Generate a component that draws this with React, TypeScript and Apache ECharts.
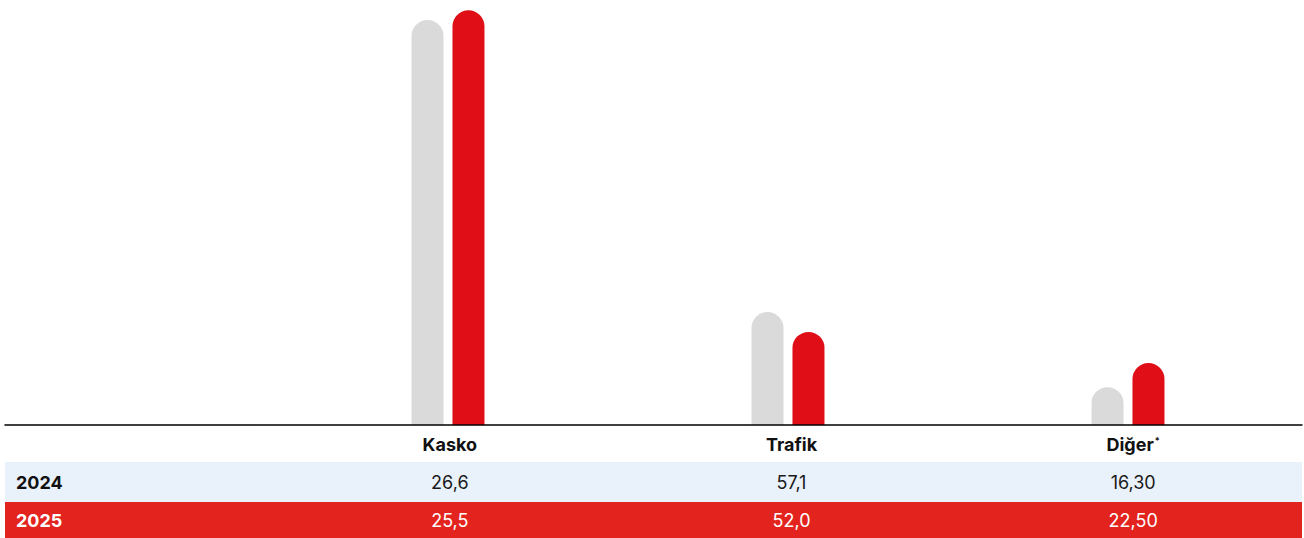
import React, { useEffect, useRef } from "react";
import * as echarts from "echarts";

const categories = ["Kasko", "Trafik", "Diğer"];
const headerSup = ["", "", "*"];
const rowLabels = ["2024", "2025"];
const table2024 = ["26,6", "57,1", "16,30"];
const table2025 = ["25,5", "52,0", "22,50"];
// bar heights (share of the plot height, %)
const bars2024 = [95.3, 26.6, 8.9];
const bars2025 = [97.6, 21.9, 14.6];

const FONT = "Inter, 'Noto Sans', sans-serif";

export default function App() {
  const ref = useRef<HTMLDivElement>(null);
  useEffect(() => {
    if (!ref.current) return;
    const chart = echarts.init(ref.current, undefined, { renderer: "svg" });
    chart.setOption({
      animation: false,
      backgroundColor: "#ffffff",
      textStyle: { fontFamily: FONT },
      grid: [
        { left: 278, right: 6, top: 0, bottom: 113 },
        { left: 5, right: 2, top: 0, bottom: 113 },
        { left: 279, right: 0, top: 0, bottom: 113 },
      ],
      xAxis: [
        {
          type: "category",
          gridIndex: 0,
          data: categories,
          axisLine: { show: false },
          axisTick: { show: false },
          axisLabel: { show: false },
        },
        {
          type: "value",
          gridIndex: 1,
          min: 0,
          max: 1,
          z: 10,
          axisLine: { show: true, lineStyle: { color: "#000000", width: 1.5 } },
          axisTick: { show: false },
          axisLabel: { show: false },
          splitLine: { show: false },
        },
        {
          type: "category",
          gridIndex: 2,
          data: categories,
          z: 10,
          axisLine: { show: false },
          axisTick: { show: false },
          axisLabel: {
            margin: 0,
            interval: 0,
            formatter: (v: string, i: number) =>
              `{h|${v}}` +
              (headerSup[i] ? `{sup|${headerSup[i]}}` : "") +
              `\n{a|${table2024[i]}}\n{b|${table2025[i]}}`,
            rich: {
              h: { fontFamily: FONT, fontSize: 18, fontWeight: "bold", color: "#111111", lineHeight: 38 },
              sup: { fontFamily: FONT, fontSize: 9, fontWeight: "bold", color: "#111111", lineHeight: 14, verticalAlign: "top", padding: [11, 0, 0, 1] },
              a: { fontFamily: FONT, fontSize: 18, color: "#1a1a1a", lineHeight: 38 },
              b: { fontFamily: FONT, fontSize: 18, color: "#ffffff", lineHeight: 38 },
            },
          },
        },
      ],
      yAxis: [
        { type: "value", gridIndex: 0, min: 0, max: 100, show: false, splitLine: { show: false } },
        { type: "value", gridIndex: 1, min: 0, max: 1, show: false, splitLine: { show: false } },
        { type: "value", gridIndex: 2, min: 0, max: 1, show: false, splitLine: { show: false } },
      ],
      series: [
        {
          name: rowLabels[0],
          type: "bar",
          xAxisIndex: 0,
          yAxisIndex: 0,
          data: bars2024,
          barWidth: 32,
          barGap: "28%",
          itemStyle: { color: "#DADADA", borderRadius: [16, 16, 0, 0] },
        },
        {
          name: rowLabels[1],
          type: "bar",
          xAxisIndex: 0,
          yAxisIndex: 0,
          data: bars2025,
          barWidth: 32,
          itemStyle: { color: "#E00E17", borderRadius: [16, 16, 0, 0] },
        },
      ],
      graphic: [
        { type: "rect", z: -10, shape: { x: 5, y: 462, width: 1297, height: 40 }, style: { fill: "#E9F1FB" } },
        { type: "rect", z: -10, shape: { x: 5, y: 502, width: 1297, height: 36 }, style: { fill: "#E3241E" } },
        {
          type: "text",
          z: 20,
          x: 16,
          y: 482,
          style: { text: rowLabels[0], fontFamily: FONT, fontSize: 18, fontWeight: "bold", fill: "#111111", verticalAlign: "middle" },
        },
        {
          type: "text",
          z: 20,
          x: 16,
          y: 520,
          style: { text: rowLabels[1], fontFamily: FONT, fontSize: 18, fontWeight: "bold", fill: "#ffffff", verticalAlign: "middle" },
        },
      ],
    });
    return () => chart.dispose();
  }, []);
  return (
    <div
      ref={ref}
      style={{ position: "absolute", left: 0, top: 0, width: 1304, height: 538, background: "#ffffff" }}
    />
  );
}
